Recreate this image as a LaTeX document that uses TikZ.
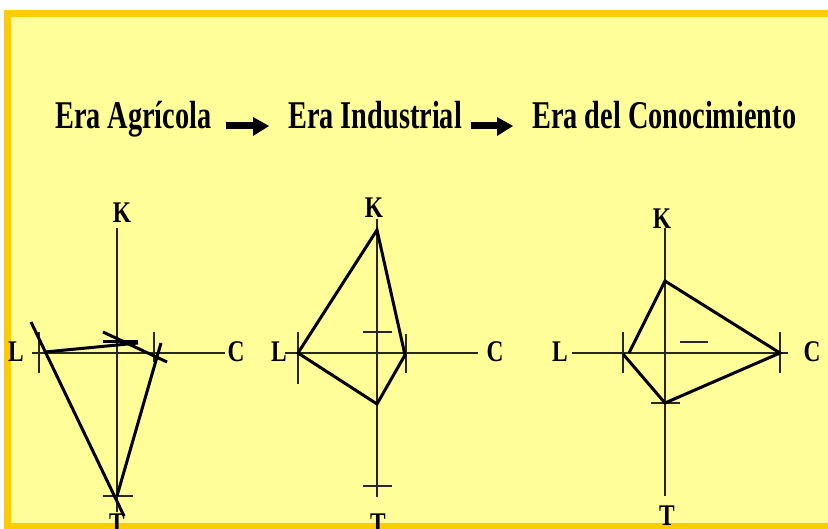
\documentclass[tikz,border=0pt]{standalone}
\usepackage{graphicx}
\usepackage{fontspec}
\setmainfont{Liberation Serif}
\definecolor{band}{HTML}{FFCC00}
\definecolor{pad}{HTML}{FFFE99}
\newcommand{\ttltext}[1]{\scalebox{0.72}[1]{\fontsize{39.3}{40}\selectfont\bfseries #1}}
\newcommand{\axtext}[1]{\scalebox{0.78}[1]{\fontsize{30}{31}\selectfont\bfseries #1}}
\tikzset{
  ttl/.style={inner sep=0pt, anchor=base west},
  axlbl/.style={inner sep=0pt, anchor=base},
  axis/.style={line width=1.3pt, black!85},
  tick/.style={line width=1.1pt, black!85},
  prof/.style={line width=3pt, line join=miter, black},
}
\begin{document}
\begin{tikzpicture}[x=1pt,y=-1pt]
\useasboundingbox (0,0) rectangle (828,529);
\fill[white] (0,0) rectangle (828,529);
\fill[band] (4,10) rectangle (840,540);
\fill[pad] (11,17) rectangle (840,523);

% title
\node[ttl] (t1) at (55,129) {\ttltext{Era Agrícola}};
\node[ttl] (t2) at (288,129) {\ttltext{Era Industrial}};
\node[ttl] (t3) at (532,129) {\ttltext{Era del Conocimiento}};
\coordinate (a1s) at (226,122); \coordinate (a1b) at (253,129);
\coordinate (a2s) at (471,122); \coordinate (a2b) at (497,129);
\fill (a1s) rectangle (a1b);
\fill (253,117) -- (269,126) -- (253,136) -- cycle;
\fill (a2s) rectangle (a2b);
\fill (497,117) -- (513,126) -- (497,136) -- cycle;

% ---------- diagram 1 ----------
\node[axlbl] (k1) at (122,223) {\axtext{K}};
\node[axlbl] (l1) at (16,362) {\axtext{L}};
\node[axlbl] (c1) at (236,362) {\axtext{C}};
\node[axlbl] (tt1) at (117,533) {\axtext{T}};
\coordinate (v1a) at (117,228); \coordinate (v1b) at (117,512);
\coordinate (h1a) at (32,353); \coordinate (h1b) at (225,353);
\draw[axis] (v1a) -- (v1b);
\draw[axis] (h1a) -- (h1b);
\draw[tick] (39,332) -- (39,373);
\draw[tick] (154,332) -- (154,362);
\draw[tick] (103,496) -- (133,496);
\draw[prof] (31,322) -- (124,516);
\draw[prof] (45,352) -- (138,343);
\draw[prof] (103,342) -- (138,342);
\draw[prof] (103,332) -- (167,362);
\draw[prof] (161,343) -- (117,496);

% ---------- diagram 2 ----------
\node[axlbl] (k2) at (374,218) {\axtext{K}};
\node[axlbl] (l2) at (279,362) {\axtext{L}};
\node[axlbl] (c2) at (495,362) {\axtext{C}};
\node[axlbl] (tt2) at (378,533) {\axtext{T}};
\coordinate (v2a) at (377,219); \coordinate (v2b) at (377,497);
\coordinate (h2a) at (285,353); \coordinate (h2b) at (478,353);
\draw[axis] (v2a) -- (v2b);
\draw[axis] (h2a) -- (h2b);
\draw[tick] (298,332) -- (298,384);
\draw[tick] (406,334) -- (406,373);
\draw[tick] (363,332) -- (392,332);
\draw[tick] (363,486) -- (392,486);
\coordinate (p2k) at (377,230);
\coordinate (p2l) at (298,353);
\coordinate (p2t) at (377,404);
\coordinate (p2c) at (405,355);
\draw[prof] (p2k) -- (p2l) -- (p2t) -- (p2c) -- cycle;

% ---------- diagram 3 ----------
\node[axlbl] (k3) at (662,229) {\axtext{K}};
\node[axlbl] (l3) at (560,362) {\axtext{L}};
\node[axlbl] (c3) at (812,362) {\axtext{C}};
\node[axlbl] (tt3) at (667,525) {\axtext{T}};
\coordinate (v3a) at (665,228); \coordinate (v3b) at (665,496);
\coordinate (h3a) at (572,353); \coordinate (h3b) at (788,353);
\draw[axis] (v3a) -- (v3b);
\draw[axis] (h3a) -- (h3b);
\draw[tick] (623,332) -- (623,373);
\draw[tick] (780,332) -- (780,373);
\draw[tick] (651,403) -- (680,403);
\draw[tick] (680,342) -- (708,342);
\coordinate (p3l1) at (629,353);
\coordinate (p3k) at (665,281);
\coordinate (p3c) at (780,353);
\coordinate (p3t) at (665,403);
\coordinate (p3l2) at (623,354);
\draw[prof] (p3l1) -- (p3k) -- (p3c) -- (p3t) -- (p3l2);
\end{tikzpicture}
\end{document}
